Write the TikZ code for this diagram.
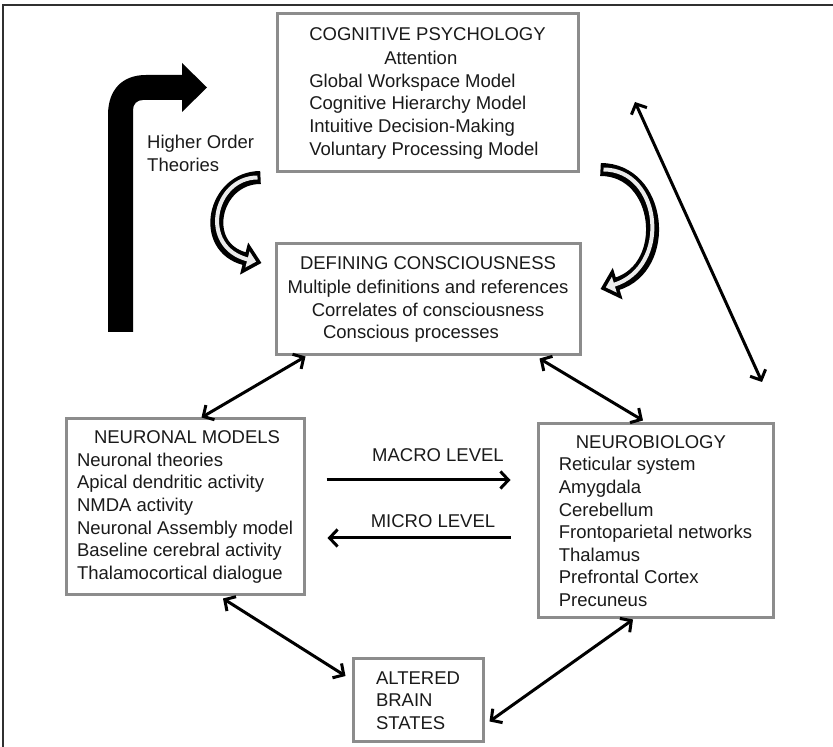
\documentclass[tikz,border=0pt]{standalone}
\usepackage{fontspec}
\setmainfont{Liberation Sans}
\usetikzlibrary{arrows.meta,positioning,calc}
\definecolor{cfInk}{HTML}{1A1A1A}
\definecolor{cfGrey}{HTML}{8C8C8C}
\definecolor{cfRule}{HTML}{303030}
\definecolor{cfPale}{HTML}{EBEBEB}
\tikzset{
  bx/.style={draw=cfGrey, line width=3pt, fill=white, inner sep=0pt, text=cfInk, font=\fontsize{18.5}{22.6}\selectfont},
  bxL/.style={bx, align=left},
  bxC/.style={bx, align=center},
  lbl/.style={text=cfInk, inner sep=0pt, font=\fontsize{18.5}{22.6}\selectfont},
  tipB/.tip={Straight Barb[length=8pt,width=17pt]},
  arr/.style={-tipB, line width=3pt, draw=black},
  biarr/.style={tipB-tipB, line width=3pt, draw=black},
  bandO/.style={line width=13pt, draw=black, -{Triangle[length=18pt,width=32pt]}},
  bandI/.style={line width=4pt, draw=cfPale, shorten <=3pt, shorten >=5.5pt, -{Triangle[length=9pt,width=16pt]}},
}
\begin{document}
\begin{tikzpicture}[x=1pt,y=1pt]
  \useasboundingbox (0,0) rectangle (833,747);
  % frame of the figure
  \draw[cfRule, line width=2pt] (3,0) -- (3,742) -- (833,742);

  % boxes
  \node[bxL, minimum width=301, minimum height=158] (cog) at (427.5,654)
    {COGNITIVE PSYCHOLOGY\\[2pt]
     \hspace*{75pt}Attention\\
     Global Workspace Model\\
     Cognitive Hierarchy Model\\
     Intuitive Decision-Making\\
     Voluntary Processing Model};
  \node[bxC, minimum width=304, minimum height=111] (def) at (428,447.5)
    {DEFINING CONSCIOUSNESS\\[2pt]
     Multiple definitions and references\\
     Correlates of consciousness\hspace*{18pt}\\
     Conscious processes\hspace*{34pt}};
  \node[bxL, minimum width=238, minimum height=176] (neur) at (185,240)
    {\hspace*{17pt}NEURONAL MODELS\\
     Neuronal theories\\
     Apical dendritic activity\\
     NMDA activity\\
     Neuronal Assembly model\\
     Baseline cerebral activity\\
     Thalamocortical dialogue};
  \node[bxL, minimum width=235, minimum height=194] (bio) at (655.5,226)
    {\hspace*{17pt}NEUROBIOLOGY\\
     Reticular system\\
     Amygdala\\
     Cerebellum\\
     Frontoparietal networks\\
     Thalamus\\
     Prefrontal Cortex\\
     Precuneus};
  \node[bxL, minimum width=130, minimum height=83] (alt) at (418,46.5)
    {ALTERED\\ BRAIN\\ STATES};

  % labels
  \node[lbl, align=left, anchor=north west] (hot) at (147,612) {Higher Order\\Theories};
  \node[lbl, anchor=base] (macro) at (438,285) {MACRO LEVEL};
  \node[lbl, anchor=base] (micro) at (433,219) {MICRO LEVEL};

  % bent black arrow
  \fill[black] (108,415) -- (108,632) .. controls (108,657) and (122,672) .. (146,672)
    -- (182,672) -- (182,684) -- (207,659.5) -- (182,635) -- (182,647) -- (143,647)
    .. controls (137,647) and (133,643) .. (133,637) -- (133,415) -- cycle;

  % hollow curved arrows
  \coordinate (hlS) at ([shift={(-15,-4)}]cog.south west);
  \coordinate (hlE) at ([shift={(-13,36.5)}]def.west);
  \coordinate (hrS) at ([shift={(21,4)}]cog.south east);
  \coordinate (hrE) at ([shift={(19,10.5)}]def.east);
  \draw[bandO] (hlS) .. controls +(-47,0) and +(-63,16) .. (hlE);
  \draw[bandI] (hlS) .. controls +(-47,0) and +(-63,16) .. (hlE);
  \draw[bandO] (hrS) .. controls +(61,0) and +(71,22) .. (hrE);
  \draw[bandI] (hrS) .. controls +(61,0) and +(71,22) .. (hrE);

  % connectors
  \draw[biarr] ([xshift=31pt]def.south west) -- ([xshift=137pt]neur.north west);
  \draw[biarr] ([shift={(-42,-2)}]def.south east) -- ([shift={(-12.5,2)}]bio.north);
  \draw[biarr] ([shift={(38,-2)}]neur.south) -- ([shift={(-6,-18.5)}]alt.north west);
  \draw[biarr] ([shift={(5,22)}]alt.south east) -- ([shift={(-22.5,0)}]bio.south);
  \draw[arr] ([shift={(21,27)}]neur.east) -- ([shift={(-26,41)}]bio.west);
  \draw[arr] ([shift={(-26,-17)}]bio.west) -- ([shift={(22,-31)}]neur.east);
  \coordinate (dgA) at (635,645);
  \coordinate (dgB) at (762,365);
  \draw[biarr] (dgA) -- (dgB);
\end{tikzpicture}
\end{document}
